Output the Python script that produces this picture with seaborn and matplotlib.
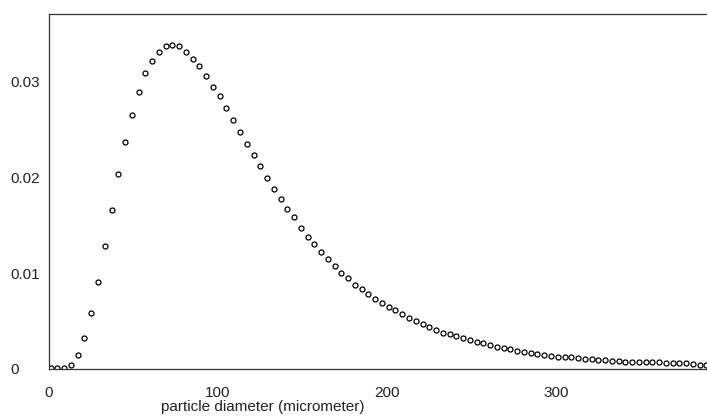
import matplotlib
matplotlib.use("Agg")
import matplotlib.pyplot as plt
import pandas as pd
import seaborn as sns

# Values
diameter = [1, 5, 9, 13, 17, 21, 25, 29, 33, 37,
            41, 45, 49, 53, 57, 61, 65, 69, 73, 77,
            81, 85, 89, 93, 97, 101, 105, 109, 113, 117,
            121, 125, 129, 133, 137, 141, 145, 149, 153, 157,
            161, 165, 169, 173, 177, 181, 185, 189, 193, 197,
            201, 205, 209, 213, 217, 221, 225, 229, 233, 237,
            241, 245, 249, 253, 257, 261, 265, 269, 273, 277,
            281, 285, 289, 293, 297, 301, 305, 309, 313, 317,
            321, 325, 329, 333, 337, 341, 345, 349, 353, 357,
            361, 365, 369, 373, 377, 381, 385, 389]
density = [0.0001, 0.0001, 0.0001, 0.0004, 0.0015, 0.0032, 0.0058, 0.0091, 0.0128, 0.0166,
           0.0203, 0.0236, 0.0265, 0.0289, 0.0308, 0.0321, 0.0330, 0.0336, 0.0337, 0.0336,
           0.0330, 0.0323, 0.0316, 0.0305, 0.0294, 0.0284, 0.0272, 0.0259, 0.0247, 0.0234,
           0.0223, 0.0211, 0.0199, 0.0188, 0.0177, 0.0167, 0.0158, 0.0147, 0.0138, 0.0130,
           0.0122, 0.0115, 0.0107, 0.0100, 0.0095, 0.0088, 0.0083, 0.0078, 0.0073, 0.0069,
           0.0065, 0.0061, 0.0057, 0.0053, 0.0050, 0.0047, 0.0044, 0.0041, 0.0038, 0.0036,
           0.0034, 0.0032, 0.0030, 0.0028, 0.0027, 0.0025, 0.0023, 0.0022, 0.0021, 0.0019,
           0.0018, 0.0017, 0.0016, 0.0015, 0.0014, 0.0013, 0.0013, 0.0012, 0.0011, 0.0010,
           0.0010, 0.0009, 0.0009, 0.0008, 0.0008, 0.0007, 0.0007, 0.0007, 0.0007, 0.0007,
           0.0007, 0.0006, 0.0006, 0.0006, 0.0006, 0.00055, 0.00045, 0.00045]
xticks = [0, 100, 200, 300]
yticks = [0, 0.01, 0.02, 0.03]
ytick_labels = ["0", "0.01", "0.02", "0.03"]

df = pd.DataFrame({"diameter": diameter, "density": density})

sns.set_style("white")
plt.rcParams["font.family"] = ["Liberation Sans", "DejaVu Sans"]

fig = plt.figure(figsize=(7.07, 4.17), dpi=100)
ax = fig.add_axes([49 / 707, 48 / 417, 658 / 707, 355 / 417])

sns.scatterplot(
    data=df,
    x="diameter",
    y="density",
    marker="o",
    s=13,
    facecolor="white",
    edgecolor="black",
    linewidth=0.9,
    ax=ax,
)

ax.set_xlim(0, 389.3)
ax.set_ylim(0, 0.03698)
ax.set_xticks(xticks)
ax.set_xticklabels([str(t) for t in xticks])
ax.set_yticks(yticks)
ax.set_yticklabels(ytick_labels)

for side in ["left", "bottom", "top"]:
    ax.spines[side].set_color("#333333")
    ax.spines[side].set_linewidth(0.9)
ax.spines["right"].set_visible(False)

ax.tick_params(axis="x", direction="inout", length=4, width=0.9, color="#333333",
               pad=10, labelsize=11, labelcolor="#222222")
ax.tick_params(axis="y", direction="out", length=3, width=0.9, color="#333333",
               pad=25, labelsize=11, labelcolor="#222222")
for lbl in ax.get_yticklabels():
    lbl.set_horizontalalignment("left")

ax.set_ylabel("")
ax.set_xlabel("particle diameter (micrometer)", fontsize=11, color="#222222")
ax.xaxis.set_label_coords(0.325, -0.088)

fig.savefig("out.png", dpi=100)
